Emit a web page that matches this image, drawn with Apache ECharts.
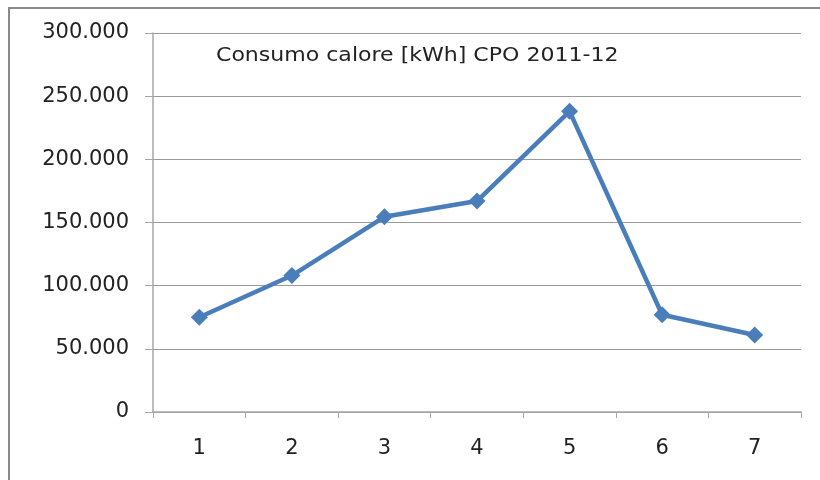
<!DOCTYPE html>
<html>
<head>
<meta charset="utf-8">
<script src="https://cdn.jsdelivr.net/npm/echarts@6/dist/echarts.min.js"></script>
<style>html,body{margin:0;padding:0;background:#fff}#c{width:820px;height:480px}</style>
</head>
<body>
<div id="c"></div>
<script>
const categories = ['1', '2', '3', '4', '5', '6', '7'];
const consumo = [75000, 108000, 154500, 167000, 238000, 77000, 61000];
const titleText = 'Consumo calore [kWh] CPO 2011-12';

function fmt(v) {
  return String(Math.round(v)).replace(/\B(?=(\d{3})+(?!\d))/g, '.');
}

const chart = echarts.init(document.getElementById('c'), null, {renderer: 'canvas'});
chart.setOption({
  animation: false,
  backgroundColor: '#fff',
  graphic: [{
    type: 'rect', shape: {x: 9, y: 8, width: 900, height: 600},
    style: {fill: 'none', stroke: '#8a8a8a', lineWidth: 2}, z: -1
  }, {
    type: 'text', x: 216, y: 66, scaleX: 1.16, z: 10,
    style: {text: titleText, fontFamily: 'DejaVu Sans', fontSize: 19, fill: '#222',
            textAlign: 'left', textVerticalAlign: 'bottom'}
  }],
  grid: {left: 153, right: 19, top: 33, bottom: 68},
  xAxis: {
    type: 'category', data: categories, boundaryGap: true,
    axisLine: {lineStyle: {color: '#a6a6a6', width: 1.5}},
    axisTick: {show: true, length: 6, lineStyle: {color: '#a6a6a6'}},
    axisLabel: {fontFamily: 'DejaVu Sans', fontSize: 21, color: '#222', margin: 26}
  },
  yAxis: {
    type: 'value', min: 0, max: 300000, interval: 50000,
    axisLine: {show: true, lineStyle: {color: '#a6a6a6', width: 1.5}},
    axisTick: {show: true, length: 8, lineStyle: {color: '#a6a6a6'}},
    axisLabel: {fontFamily: 'DejaVu Sans', fontSize: 21, color: '#222', margin: 24, formatter: fmt},
    splitLine: {lineStyle: {color: '#9a9a9a', width: 1}}
  },
  series: [{
    type: 'line', data: consumo,
    symbol: 'diamond', symbolSize: 17,
    lineStyle: {color: '#4A7EBB', width: 4.5},
    itemStyle: {color: '#4A7EBB'}
  }]
});
</script>
</body>
</html>
